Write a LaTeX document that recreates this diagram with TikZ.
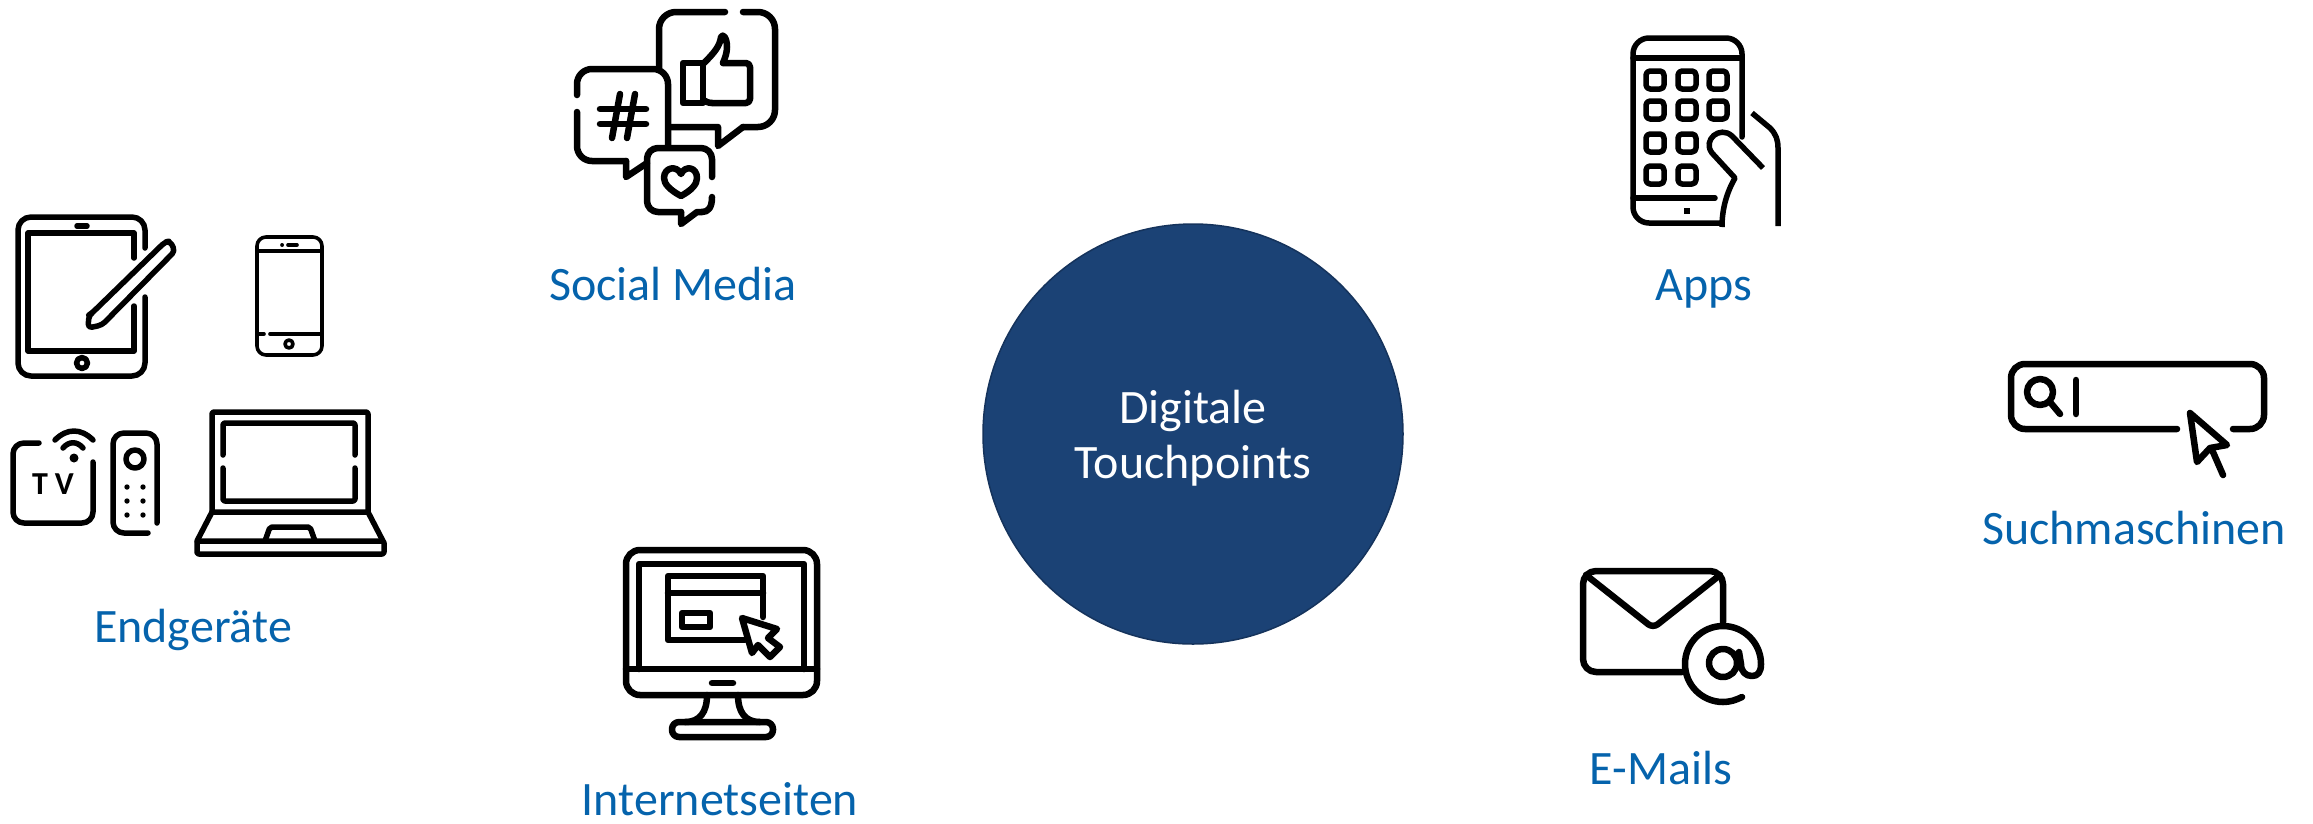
\documentclass[tikz,border=0pt]{standalone}
\usepackage{fontspec}
\setmainfont{Carlito}
\usepackage{tikz}
\usetikzlibrary{positioning}
\definecolor{hubblue}{HTML}{1B4275}
\definecolor{hubline}{HTML}{15335C}
\definecolor{touchblue}{HTML}{0563AC}
\tikzset{
  touch/.style={text=touchblue,font=\fontsize{48}{56}\selectfont,inner sep=0pt,anchor=base},
  iconfat/.style={draw=black,line width=6.5pt,line cap=round,line join=round},
  iconmid/.style={draw=black,line width=5.5pt,line cap=round,line join=round},
  iconthin/.style={draw=black,line width=3.6pt,line cap=round,line join=round}
}
\begin{document}
\begin{tikzpicture}[x=1pt,y=-1pt]
    \useasboundingbox (0,0) rectangle (2313,823);
    \node[circle,fill=hubblue,draw=hubline,line width=1.5pt,minimum size=420pt,inner sep=0pt] (hub) at (1193,434) {};
    \node[text=white,align=center,inner sep=0pt,font=\fontsize{48}{55.5}\selectfont] (hubtext) at (1193,438) {Digitale\\Touchpoints};

    \node[touch] (social) at (673,300)  {Social Media};
    \node[touch] (apps)   at (1704,300) {Apps};
    \node[touch] (search) at (2134,544) {Suchmaschinen};
    \node[touch] (mails)  at (1661,784) {E-Mails};
    \node[touch] (web)    at (720,815)  {Internetseiten};
    \node[touch] (devices) at (193,642) {Endgeräte};

    % tablet
    \draw[iconmid,rounded corners=13] (145,248) -- (145,217) -- (18,217) -- (18,376) -- (145,376) -- (145,297);
    \draw[iconmid] (134,258) -- (134,233) -- (28,233) -- (28,351) -- (134,351) -- (134,306);
    \draw[iconmid] (77,226) -- (87,226);
    \draw[iconmid] (82,363) circle (5.5);
    \draw[iconmid,rounded corners=4] (92,313) -- (89,315) -- (88,328) -- (102,325) -- (175,251) -- (170,241) -- (165,242) -- cycle;

    % phone
    \draw[iconthin,rounded corners=9] (257,237) rectangle (322,355);
    \draw[iconthin] (257,251) -- (322,251);
    \draw[iconthin] (257,334) -- (264,334) (270,334) -- (322,334);
    \draw[iconthin] (282,245) -- (282.2,245) (288,245) -- (297,245);
    \draw[iconthin] (289,344) circle (4);

    % tv box
    \draw[iconmid,rounded corners=11] (39,443) -- (13,443) -- (13,523) -- (93,523) -- (93,462);
    \fill (74,458) circle (4.5);
    \draw[iconmid] (63,448) .. controls (69,441) and (77,441) .. (83,448);
    \draw[iconmid] (55,440) .. controls (67,428) and (81,428) .. (93,440);
    \node[inner sep=0pt,font=\fontsize{32}{32}\bfseries\selectfont] (tvtext) at (53,484) {T\hspace{7pt}V};

    % remote
    \draw[iconmid,rounded corners=11] (157,523) -- (157,433) -- (113,433) -- (113,533) -- (148,533);
    \draw[iconmid] (135,459) circle (9);
    \foreach \dotx in {127,143}
      \foreach \doty in {487,501,515}
        \fill (\dotx,\doty) circle (2.7);

    % laptop
    \draw[iconmid,rounded corners=2] (212,512) -- (212,412) -- (368,412) -- (368,512);
    \draw[iconmid,rounded corners=2] (223,455) -- (223,423) -- (355,423) -- (355,455);
    \draw[iconmid,rounded corners=2] (223,468) -- (223,501) -- (355,501) -- (355,468);
    \draw[iconmid] (212,512) -- (368,512) -- (383,541) (212,512) -- (197,541);
    \draw[iconmid,rounded corners=2] (197,541) rectangle (384,554);
    \draw[iconmid,rounded corners=2] (265,541) -- (270,527) -- (310,527) -- (315,541);

    % social media
    \draw[iconfat,rounded corners=17] (725,12) -- (659,12) -- (659,68);
    \draw[iconfat,rounded corners=17] (743,12) -- (775,12) -- (775,127) -- (743,127);
    \draw[iconfat] (743,127) -- (718,146) -- (718,127) -- (670,127);
    \draw[iconfat,rounded corners=15] (577,95) -- (577,69) -- (668,69) -- (668,147);
    \draw[iconfat,rounded corners=15] (577,112) -- (577,161) -- (626,161);
    \draw[iconfat] (626,161) -- (626,177) -- (647,163);
    \draw[iconfat,rounded corners=11] (712,177) -- (712,148) -- (647,148) -- (647,212) -- (681,212);
    \draw[iconfat] (681,212) -- (681,224) -- (697,212) -- (702,212);
    \draw[iconfat] (702,212) .. controls (708,212) and (712,208) .. (712,197);
    \draw[iconfat] (620,94) -- (612,138) (635,94) -- (627,138);
    \draw[iconfat] (600,109) -- (646,109) (600,124) -- (646,124);
    \draw[iconfat] (683,63) rectangle (703,103);
    \draw[iconfat,rounded corners=4] (723,63) -- (750,63) -- (750,103) -- (712,103);
    \draw[iconfat] (712,103) .. controls (708,103) and (705,101) .. (703,100);
    \draw[iconfat] (704,63) .. controls (714,53) and (720,46) .. (721,37) .. controls (723,33) and (727,38) .. (727,47) .. controls (727,53) and (725,58) .. (723,63);
    \draw[iconfat] (681,196) .. controls (670,190) and (664,184) .. (664,178) .. controls (664,167) and (677,165) .. (681,174) .. controls (685,165) and (697,167) .. (697,178) .. controls (697,184) and (692,190) .. cycle;

    % website on monitor
    \draw[iconfat,rounded corners=14] (626,550) rectangle (817,695);
    \draw[iconfat] (626,669) -- (817,669);
    \draw[iconfat] (639,669) -- (639,564) -- (804,564) -- (804,669);
    \draw[iconfat] (712,683) -- (733,683);
    \draw[iconfat] (707,695) .. controls (707,712) and (700,722) .. (685,722);
    \draw[iconfat] (738,695) .. controls (738,712) and (745,722) .. (760,722);
    \draw[iconfat,rounded corners=7] (672,722) rectangle (773,737);
    \draw[iconfat] (745,640) -- (668,640) -- (668,576) -- (763,576) -- (763,617);
    \draw[iconfat] (668,593) -- (763,593);
    \draw[iconfat] (682,613) rectangle (710,627);
    \draw[iconfat] (742,618) -- (777,629) -- (768,638) -- (780,647) -- (770,657) -- (758,645) -- (752,653) -- cycle;

    % apps
    \draw[iconmid,rounded corners=16] (1722,223) -- (1633,223) -- (1633,38) -- (1742,38) -- (1742,137);
    \draw[iconmid] (1633,58) -- (1742,58);
    \draw[iconmid] (1633,198) -- (1715,198);
    \fill (1684,208) rectangle (1690,214);
    \foreach \keyx/\keyy in {1655/80,1687/80,1718/80,1655/110,1687/110,1718/110,1655/143,1687/143,1655/175,1687/175}
      \draw[iconmid,rounded corners=4] (\keyx-9,\keyy-9) rectangle (\keyx+9,\keyy+9);
    \draw[iconmid,line cap=butt] (1763,168) -- (1732,136) .. controls (1720,125) and (1702,140) .. (1712,153) -- (1735,178) .. controls (1727,192) and (1722,208) .. (1722,227);
    \draw[iconmid,line cap=butt] (1752,113) -- (1770,128) .. controls (1776,134) and (1778,140) .. (1778,148) -- (1778,226);

    % search bar
    \draw[iconfat,rounded corners=14] (2177,429) -- (2011,429) -- (2011,364) -- (2264,364) -- (2264,429) -- (2233,429);
    \draw[iconfat] (2040,392) circle (13);
    \draw[iconfat] (2050,402) -- (2060,414);
    \draw[iconfat] (2076,380) -- (2076,414);
    \draw[iconfat] (2190,413) -- (2227,445) -- (2210,448) -- (2197,462) -- cycle;
    \draw[iconfat] (2213,452) -- (2223,475);

    % mail
    \draw[iconfat,rounded corners=13] (1723,622) -- (1723,571) -- (1583,571) -- (1583,672) -- (1682,672);
    \draw[iconfat,rounded corners=6] (1586,575) -- (1653,628) -- (1720,575);
    \draw[iconfat] (1742,697) .. controls (1736,700) and (1730,702) .. (1723,702) .. controls (1702,702) and (1685,685) .. (1685,664) .. controls (1685,643) and (1702,626) .. (1723,626) .. controls (1744,626) and (1761,643) .. (1761,664) .. controls (1761,672) and (1758,676) .. (1752,676) .. controls (1746,676) and (1741,672) .. (1741,664) -- (1739,652);
    \draw[iconfat] (1723,663) circle (14);
\end{tikzpicture}
\end{document}
